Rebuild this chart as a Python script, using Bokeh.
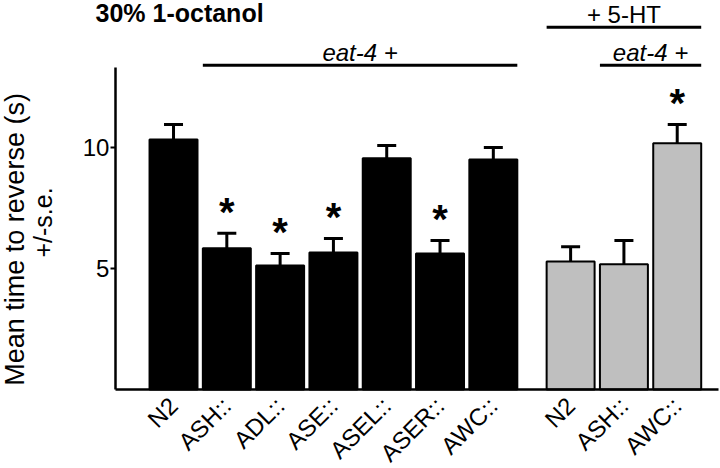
import math
from bokeh.plotting import figure
from bokeh.models import ColumnDataSource, Range1d, FixedTicker, Label, Whisker, TeeHead
from bokeh.core.properties import value
from bokeh.embed import file_html
from bokeh.resources import INLINE

# ---------------- data ----------------
strains = ["N2", "ASH::", "ADL::", "ASE::", "ASEL::", "ASER::", "AWC::", "N2", "ASH::", "AWC::"]
positions = [0, 1, 2, 3, 4, 5, 6, 7.45, 8.45, 9.45]
means = [10.33, 5.83, 5.12, 5.66, 9.55, 5.62, 9.50, 5.29, 5.17, 10.17]
errors = [0.62, 0.62, 0.50, 0.58, 0.53, 0.54, 0.50, 0.61, 0.99, 0.78]
significant = [False, True, True, True, False, True, False, False, False, True]
with_serotonin = [False] * 7 + [True] * 3
y_ticks = [5, 10]
title_text = "30% 1-octanol"
y_label_lines = ["Mean time to reverse (s)", "+/-s.e."]
# bracket annotations: (text, first bar index, last bar index, level, italic)
brackets = [("eat-4 +", 1, 6, 13.39, True),
            ("+ 5-HT", 7, 9, 14.96, False),
            ("eat-4 +", 8, 9, 13.39, True)]

FONT = "Liberation Sans"
BAR_W = 0.9
X_AXIS_AT = -1.09      # where the y axis crosses (data x)
X_AXIS_END = 10.22
Y_TOP = 13.3           # top of the drawn y axis line
colors = ["#bfbfbf" if s else "#000000" for s in with_serotonin]

src = ColumnDataSource(dict(
    x=positions, mean=means, upper=[m + e for m, e in zip(means, errors)],
    color=colors,
))

p = figure(width=720, height=468, output_backend="svg", toolbar_location=None,
           x_range=Range1d(-3.246, 10.262), y_range=Range1d(-3.264, 16.07),
           min_border_left=0, min_border_right=0, min_border_top=0, min_border_bottom=0)
p.outline_line_color = None
p.xgrid.visible = False
p.ygrid.visible = False
p.background_fill_color = "white"
p.border_fill_color = "white"

p.vbar(x="x", top="mean", bottom=0, width=BAR_W, source=src,
       fill_color="color", line_color="black", line_width=2)

p.add_layout(Whisker(base="x", lower="mean", upper="upper", source=src, dimension="height",
                     line_color="black", line_width=3,
                     upper_head=TeeHead(size=19, line_width=3, line_color="black"),
                     lower_head=None))

# significance stars
sig_src = ColumnDataSource(dict(
    x=[x for x, s in zip(positions, significant) if s],
    y=[m + e for m, e, s in zip(means, errors, significant) if s],
    t=["*" for s in significant if s],
))
p.text(x="x", y="y", text="t", source=sig_src, text_font=value(FONT),
       text_font_style="bold", text_font_size="40px", text_align="center",
       text_baseline="alphabetic", y_offset=-21, text_color="black")

# brackets
bx0, bx1, by, bt, bstyle = [], [], [], [], []
for txt, i0, i1, lvl, ital in brackets:
    bx0.append(positions[i0] - BAR_W / 2)
    bx1.append(positions[i1] + BAR_W / 2)
    by.append(lvl)
    bt.append(txt)
    bstyle.append("italic" if ital else "normal")
bsrc = ColumnDataSource(dict(x0=bx0, x1=bx1, y=by, xm=[(a + b) / 2 for a, b in zip(bx0, bx1)],
                             t=bt, style=bstyle))
p.segment(x0="x0", y0="y", x1="x1", y1="y", source=bsrc, line_color="black", line_width=3)
p.text(x="xm", y="y", text="t", source=bsrc, text_font=value(FONT), text_font_style="style",
       text_font_size="24px", text_align="center", text_baseline="alphabetic",
       y_offset=-13, text_color="black")

# axes (fixed inside the full-size frame)
p.yaxis.fixed_location = X_AXIS_AT
p.yaxis.ticker = FixedTicker(ticks=y_ticks)
p.yaxis.bounds = (0, Y_TOP)
p.yaxis.axis_line_width = 2.5
p.yaxis.major_tick_line_width = 2
p.yaxis.major_tick_out = 5
p.yaxis.major_tick_in = 0
p.yaxis.minor_tick_line_color = None
p.yaxis.major_label_text_font = FONT
p.yaxis.major_label_text_font_size = "24px"
p.yaxis.major_label_text_color = "black"
p.yaxis.major_label_standoff = 1

p.xaxis.fixed_location = 0
p.xaxis.bounds = (X_AXIS_AT, X_AXIS_END)
p.xaxis.ticker = FixedTicker(ticks=positions)
p.xaxis.major_label_overrides = {pos: lab for pos, lab in zip(positions, strains)}
p.xaxis.axis_line_width = 2.5
p.xaxis.major_tick_line_color = None
p.xaxis.minor_tick_line_color = None
p.xaxis.major_label_orientation = math.pi / 4
p.xaxis.major_label_text_font = FONT
p.xaxis.major_label_text_font_size = "24px"
p.xaxis.major_label_text_color = "black"
p.xaxis.major_label_standoff = 6

# title and y-axis label as text annotations
p.add_layout(Label(x=95, y=15.57, x_units="screen", y_units="data", text=title_text,
                   text_font=FONT, text_font_style="bold", text_font_size="25px",
                   text_baseline="alphabetic", text_align="left", text_color="black"))
p.add_layout(Label(x=14, y=6.2, x_units="screen", y_units="data", text=y_label_lines[0],
                   angle=math.pi / 2, text_font=FONT, text_font_size="27px",
                   text_baseline="middle", text_align="center", text_color="black"))
p.add_layout(Label(x=42, y=6.9, x_units="screen", y_units="data", text=y_label_lines[1],
                   angle=math.pi / 2, text_font=FONT, text_font_size="25px",
                   text_baseline="middle", text_align="center", text_color="black"))

open("out.html", "w").write(file_html(p, INLINE))
